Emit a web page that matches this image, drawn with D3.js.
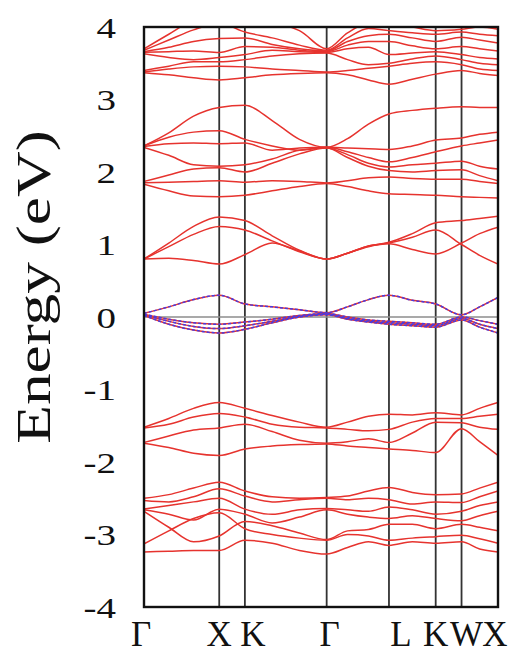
<!DOCTYPE html>
<html>
<head>
<meta charset="utf-8">
<script src="https://cdn.jsdelivr.net/npm/d3@7"></script>
<style>
  body { margin: 0; background: #fff; }
  text { font-family: "Liberation Serif", "DejaVu Serif", serif; fill: #111; }
</style>
</head>
<body>
<div id="chart"></div>
<script>
// high-symmetry points along the k path (fraction of path length)
const kTicks = [0, 0.2125, 0.285, 0.516, 0.692, 0.824, 0.897, 1.0];
const kLabels = ["Γ", "X", "K", "Γ", "L", "K", "W", "X"];
// sampled k positions: Γ . . X K . . Γ . . L . K W . X
const kGrid = [0, 0.07, 0.14, 0.2125, 0.285, 0.362, 0.439, 0.516, 0.575, 0.634, 0.692, 0.758, 0.824, 0.897, 0.948, 1.0];
const yTicks = [-4, -3, -2, -1, 0, 1, 2, 3, 4];

// energies (eV), one row per band
const bandsHigh = [
  [3.37, 3.34, 3.30, 3.27, 3.30, 3.34, 3.36, 3.37, 3.34, 3.27, 3.21, 3.28, 3.35, 3.40, 3.36, 3.33],
  [3.38, 3.42, 3.45, 3.46, 3.45, 3.42, 3.40, 3.38, 3.40, 3.43, 3.46, 3.50, 3.52, 3.48, 3.42, 3.40],
  [3.40, 3.46, 3.52, 3.52, 3.55, 3.60, 3.63, 3.64, 3.55, 3.48, 3.50, 3.56, 3.60, 3.55, 3.50, 3.48],
  [3.63, 3.58, 3.55, 3.58, 3.62, 3.68, 3.66, 3.65, 3.70, 3.72, 3.62, 3.64, 3.66, 3.62, 3.58, 3.56],
  [3.65, 3.66, 3.67, 3.65, 3.73, 3.72, 3.68, 3.66, 3.75, 3.80, 3.80, 3.74, 3.70, 3.73, 3.70, 3.67],
  [3.66, 3.72, 3.80, 3.84, 3.85, 3.76, 3.70, 3.67, 3.80, 3.88, 3.90, 3.85, 3.80, 3.86, 3.82, 3.78],
  [3.68, 3.82, 3.96, 4.05, 3.93, 3.85, 3.75, 3.68, 3.85, 3.98, 3.95, 3.92, 3.90, 3.93, 3.90, 3.88],
  [3.70, 3.90, 4.10, 4.20, 4.00, 4.05, 3.95, 3.70, 3.92, 4.05, 4.05, 4.00, 3.95, 3.97, 4.00, 3.97]
];
const bandsMid = [
  [2.36, 2.54, 2.77, 2.89, 2.92, 2.71, 2.45, 2.34, 2.46, 2.66, 2.80, 2.85, 2.88, 2.90, 2.89, 2.89],
  [2.36, 2.48, 2.55, 2.57, 2.45, 2.36, 2.30, 2.34, 2.33, 2.32, 2.31, 2.36, 2.44, 2.47, 2.52, 2.55],
  [2.35, 2.39, 2.40, 2.39, 2.40, 2.30, 2.33, 2.34, 2.28, 2.20, 2.14, 2.20, 2.28, 2.36, 2.40, 2.44],
  [2.34, 2.23, 2.10, 2.08, 2.10, 2.18, 2.30, 2.33, 2.24, 2.12, 2.07, 2.10, 2.12, 2.15, 2.08, 2.04],
  [1.87, 1.96, 2.04, 2.06, 2.00, 2.12, 2.25, 2.33, 2.20, 2.08, 2.02, 2.00, 2.02, 2.03, 1.95, 1.88],
  [1.85, 1.86, 1.87, 1.88, 1.86, 1.88, 1.87, 1.85, 1.88, 1.92, 1.93, 1.91, 1.90, 1.90, 1.87, 1.84],
  [1.83, 1.74, 1.67, 1.66, 1.68, 1.74, 1.80, 1.84, 1.80, 1.74, 1.70, 1.69, 1.68, 1.66, 1.65, 1.64]
];
const bandsLow = [
  [0.80, 1.02, 1.25, 1.38, 1.33, 1.12, 0.92, 0.80, 0.88, 0.98, 1.03, 1.15, 1.30, 1.33, 1.36, 1.39],
  [0.80, 0.97, 1.14, 1.25, 1.20, 1.05, 0.90, 0.80, 0.88, 0.98, 1.02, 1.10, 1.20, 1.00, 0.85, 0.73],
  [0.80, 0.81, 0.78, 0.73, 0.86, 1.02, 0.91, 0.80, 0.88, 0.97, 1.01, 0.93, 0.87, 1.02, 1.15, 1.24]
];
const bandsFermi = [
  [0.05, 0.14, 0.24, 0.30, 0.18, 0.14, 0.10, 0.06, 0.14, 0.24, 0.30, 0.23, 0.18, 0.03, 0.14, 0.27],
  [0.04, -0.03, -0.08, -0.10, -0.07, -0.03, 0.02, 0.05, 0.00, -0.04, -0.06, -0.08, -0.10, 0.00, -0.05, -0.10],
  [0.03, -0.06, -0.13, -0.16, -0.12, -0.06, 0.01, 0.04, -0.02, -0.06, -0.08, -0.10, -0.12, -0.02, -0.10, -0.16],
  [0.02, -0.10, -0.18, -0.22, -0.17, -0.08, 0.00, 0.03, -0.03, -0.07, -0.10, -0.12, -0.14, -0.04, -0.14, -0.22]
];
const bandsValA = [
  [-1.52, -1.40, -1.26, -1.18, -1.26, -1.36, -1.45, -1.52, -1.45, -1.37, -1.34, -1.35, -1.32, -1.35, -1.26, -1.18],
  [-1.53, -1.48, -1.38, -1.33, -1.38, -1.48, -1.52, -1.53, -1.55, -1.57, -1.55, -1.45, -1.40, -1.40, -1.37, -1.34],
  [-1.73, -1.64, -1.56, -1.53, -1.48, -1.58, -1.70, -1.74, -1.72, -1.68, -1.73, -1.60, -1.45, -1.46, -1.52, -1.55],
  [-1.74, -1.80, -1.88, -1.91, -1.82, -1.78, -1.76, -1.75, -1.78, -1.80, -1.82, -1.84, -1.87, -1.54, -1.72, -1.91]
];
const bandsValB = [
  [-2.50, -2.45, -2.36, -2.28, -2.40, -2.48, -2.50, -2.49, -2.47, -2.40, -2.35, -2.42, -2.45, -2.44, -2.36, -2.28],
  [-2.53, -2.55, -2.48, -2.37, -2.47, -2.55, -2.52, -2.50, -2.52, -2.50, -2.52, -2.58, -2.55, -2.56, -2.48, -2.40],
  [-2.65, -2.60, -2.55, -2.50, -2.65, -2.72, -2.66, -2.64, -2.66, -2.68, -2.62, -2.66, -2.72, -2.68, -2.60, -2.55],
  [-2.66, -2.72, -2.80, -2.65, -2.72, -2.84, -2.76, -2.66, -2.72, -2.76, -2.78, -2.74, -2.78, -2.81, -2.74, -2.68],
  [-2.68, -2.90, -3.10, -3.02, -2.82, -2.88, -2.98, -3.07, -2.95, -2.93, -2.86, -2.86, -2.92, -2.86, -2.90, -2.95],
  [-3.13, -2.95, -2.78, -2.70, -2.92, -3.00, -3.05, -3.08, -3.00, -3.02, -3.08, -3.05, -3.03, -3.01, -3.06, -3.12],
  [-3.24, -3.23, -3.22, -3.22, -3.08, -3.12, -3.22, -3.27, -3.18, -3.10, -3.15, -3.10, -3.12, -3.10, -3.20, -3.24]
];

const width = 513, height = 653;
const plotLeft = 144, plotRight = 498, plotTop = 27, plotBottom = 607;

const svg = d3.select("#chart").append("svg")
  .attr("width", width)
  .attr("height", height);

const x = d3.scaleLinear().domain([0, 1]).range([plotLeft, plotRight]);
const y = d3.scaleLinear().domain([-4, 4]).range([plotBottom, plotTop]);

svg.append("defs").append("clipPath")
  .attr("id", "plotClip")
  .append("rect")
  .attr("x", plotLeft).attr("y", plotTop)
  .attr("width", plotRight - plotLeft).attr("height", plotBottom - plotTop);

const plot = svg.append("g").attr("clip-path", "url(#plotClip)");

// vertical lines at high-symmetry points
plot.selectAll(".kline")
  .data(kTicks.slice(1, -1))
  .enter()
  .append("line")
  .attr("class", "kline")
  .attr("x1", d => x(d)).attr("x2", d => x(d))
  .attr("y1", plotTop).attr("y2", plotBottom)
  .attr("stroke", "#333")
  .attr("stroke-width", 1.8);

// Fermi level
plot.append("line")
  .attr("x1", plotLeft).attr("x2", plotRight)
  .attr("y1", y(0)).attr("y2", y(0))
  .attr("stroke", "#8c8c8c")
  .attr("stroke-width", 1.6);

const line = d3.line()
  .x((d, i) => x(kGrid[i]))
  .y(d => y(d))
  .curve(d3.curveMonotoneX);

const redBands = [].concat(bandsHigh, bandsMid, bandsLow, bandsFermi, bandsValA, bandsValB);

plot.selectAll(".band")
  .data(redBands)
  .enter()
  .append("path")
  .attr("class", "band")
  .attr("d", line)
  .attr("fill", "none")
  .attr("stroke", "#e6332e")
  .attr("stroke-width", 1.5);

plot.selectAll(".fermiBand")
  .data(bandsFermi)
  .enter()
  .append("path")
  .attr("class", "fermiBand")
  .attr("d", line)
  .attr("fill", "none")
  .attr("stroke", "#4a3ae0")
  .attr("stroke-width", 1.5)
  .attr("stroke-dasharray", "3,2");

// frame
svg.append("rect")
  .attr("x", plotLeft).attr("y", plotTop)
  .attr("width", plotRight - plotLeft).attr("height", plotBottom - plotTop)
  .attr("fill", "none")
  .attr("stroke", "#111")
  .attr("stroke-width", 2.4);

// y tick labels (the reference glyphs are a little wide)
svg.selectAll(".ytick")
  .data(yTicks)
  .enter()
  .append("text")
  .attr("class", "ytick")
  .attr("transform", d => `translate(116,${y(d)}) scale(1.3,1)`)
  .attr("dy", "0.35em")
  .attr("text-anchor", "end")
  .style("font-size", "30px")
  .text(d => String(d));

// k labels
const labelShift = [-3, 0, 8, 3, 12, 0, 5, -3];
svg.selectAll(".klabel")
  .data(kTicks)
  .enter()
  .append("text")
  .attr("class", "klabel")
  .attr("x", (d, i) => x(d) + labelShift[i])
  .attr("y", 646)
  .attr("text-anchor", "middle")
  .style("font-size", "35px")
  .text((d, i) => kLabels[i]);

svg.append("text")
  .attr("transform", "translate(50,287) rotate(-90) scale(1.32,1)")
  .attr("text-anchor", "middle")
  .style("font-size", "48px")
  .text("Energy (eV)");
</script>
</body>
</html>
